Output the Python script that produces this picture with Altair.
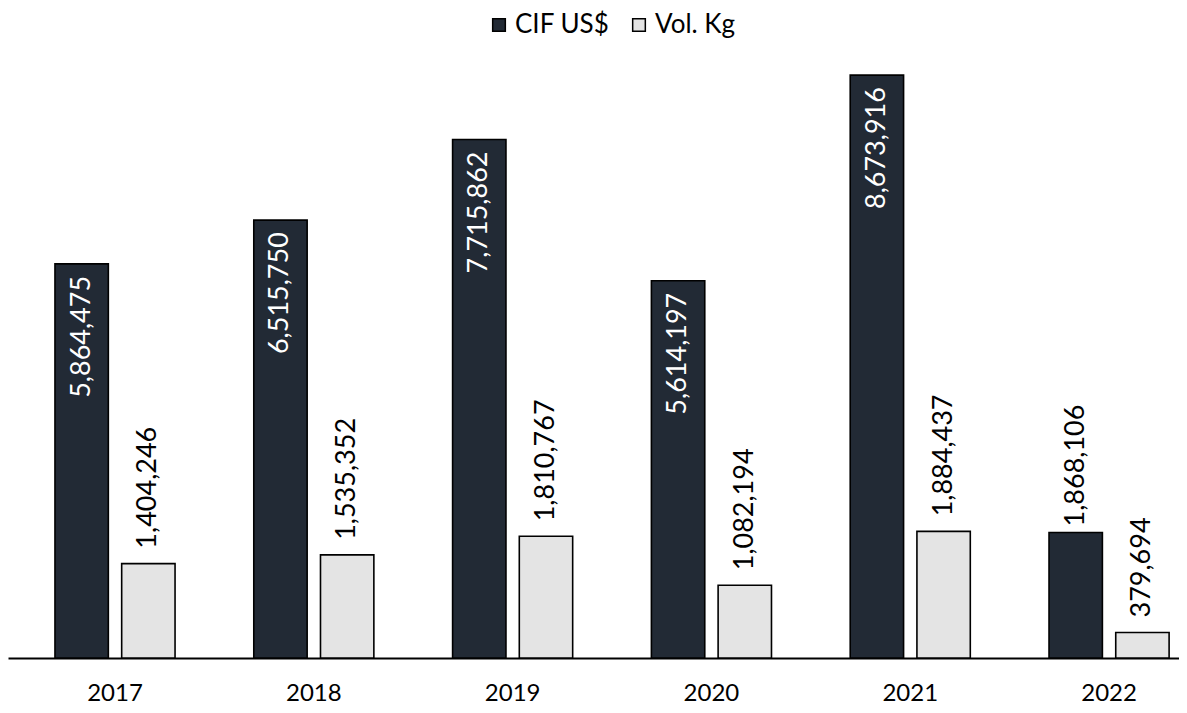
import altair as alt
import pandas as pd

years = ["2017", "2018", "2019", "2020", "2021", "2022"]
cif_usd = [5864475, 6515750, 7715862, 5614197, 8673916, 1868106]
vol_kg = [1404246, 1535352, 1810767, 1082194, 1884437, 379694]
series_names = ["CIF US$", "Vol. Kg"]
series_colors = ["#222a35", "#e4e4e4"]

rows = []
for y, c, v in zip(years, cif_usd, vol_kg):
    rows.append({"year": y, "series": series_names[0], "value": c})
    rows.append({"year": y, "series": series_names[1], "value": v})
df = pd.DataFrame(rows)

FONT = "Lato"

base = alt.Chart(df).encode(
    x=alt.X(
        "year:N",
        sort=years,
        title=None,
        scale=alt.Scale(paddingInner=0.396, paddingOuter=0.143, align=0.826),
        axis=alt.Axis(
            domain=True, domainColor="#000000", domainWidth=2,
            ticks=False, labelAngle=0, labelFont=FONT,
            labelFontSize=24, labelColor="#000000", labelPadding=23, grid=False,
        ),
    ),
    xOffset=alt.XOffset(
        "series:N", sort=series_names,
        scale=alt.Scale(domain=series_names, paddingInner=0.2, paddingOuter=0),
    ),
    y=alt.Y("value:Q", scale=alt.Scale(domain=[0, 8780000]), axis=None),
)

bars = base.mark_bar(stroke="#000000", strokeWidth=1.6).encode(
    color=alt.Color(
        "series:N",
        sort=series_names,
        scale=alt.Scale(domain=series_names, range=series_colors),
        legend=alt.Legend(
            title=None, orient="none", direction="horizontal",
            legendX=478, legendY=-56, symbolType="square", symbolSize=160,
            symbolStrokeColor="#000000", symbolStrokeWidth=1.5,
            labelFont=FONT, labelFontSize=26, labelColor="#000000",
            labelOffset=3, columnPadding=16, padding=0,
        ),
    )
)

inside = base.transform_filter(
    "datum.series == 'CIF US$' && datum.value > 3000000"
).mark_text(angle=270, align="right", baseline="middle", dx=-12,
            font=FONT, fontSize=27, color="#ffffff").encode(
    text=alt.Text("value:Q", format=",")
)

outside_cif = base.transform_filter(
    "datum.series == 'CIF US$' && datum.value <= 3000000"
).mark_text(angle=270, align="left", baseline="middle", dx=6,
            font=FONT, fontSize=27, color="#000000").encode(
    text=alt.Text("value:Q", format=",")
)

outside_vol = base.transform_filter(
    "datum.series == 'Vol. Kg'"
).mark_text(angle=270, align="left", baseline="middle", dx=15,
            font=FONT, fontSize=27, color="#000000").encode(
    text=alt.Text("value:Q", format=",")
)

chart = alt.layer(bars, inside, outside_cif, outside_vol).properties(
    width=1171, height=590,
    background="#ffffff",
    autosize=alt.AutoSizeParams(type="none"),
    padding={"left": 0, "right": 0, "top": 60, "bottom": 46},
).configure_view(stroke=None, strokeWidth=0)

chart.save("out.html", embed_options={"renderer": "svg", "actions": False})
